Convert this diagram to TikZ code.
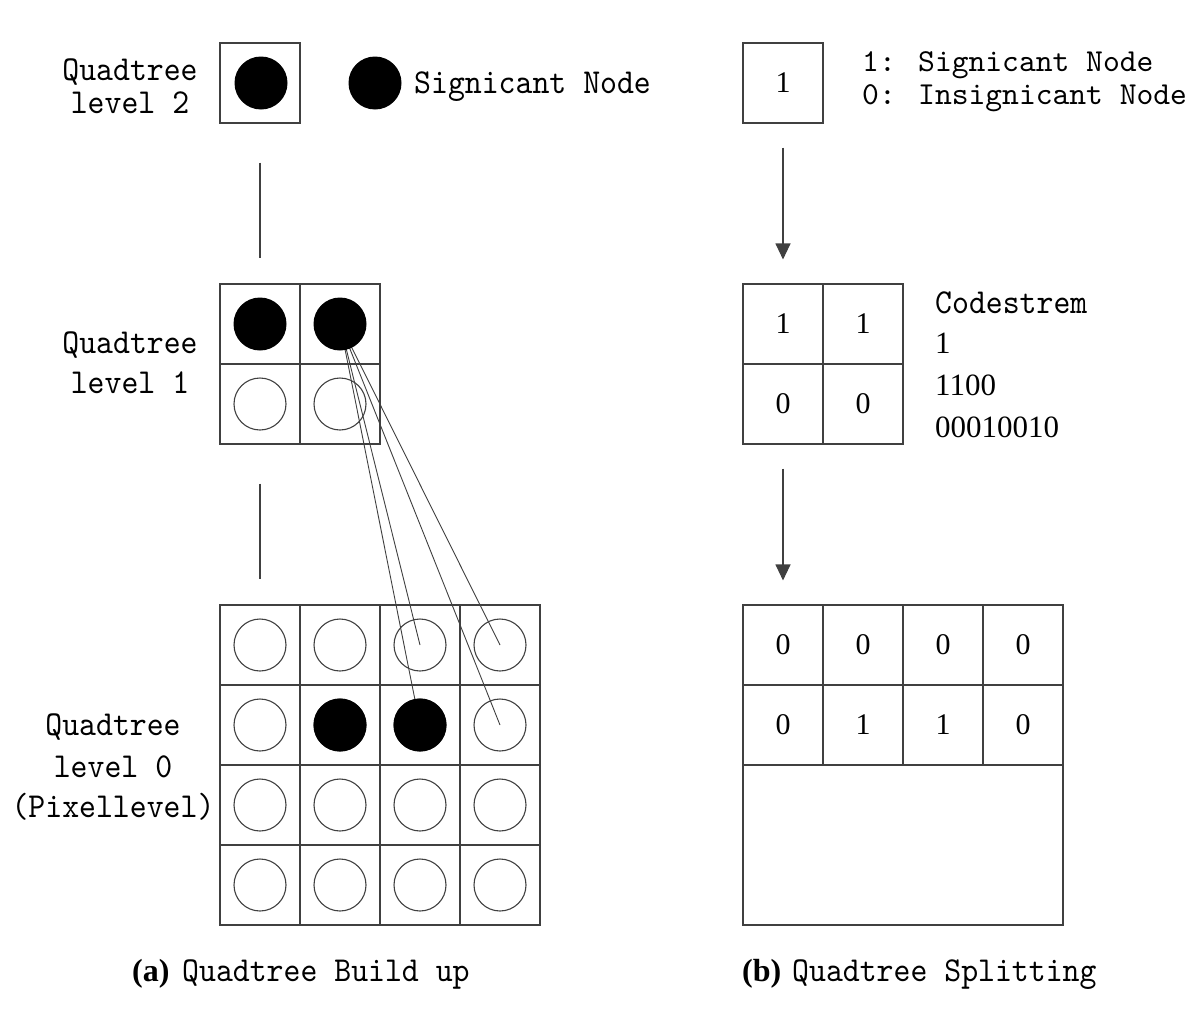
\documentclass[tikz,border=0pt]{standalone}
\usepackage{fontspec}
\usetikzlibrary{arrows.meta}
\newfontfamily\monofnt{lmmono10-regular.otf}[FakeStretch=0.92]
\newfontfamily\monolg{lmmono10-regular.otf}
\newfontfamily\serfnt{Liberation Serif}
\newcommand{\lbl}{\monofnt\fontsize{35}{40}\selectfont}
\newcommand{\lgd}{\monolg\fontsize{32}{36}\selectfont}
\newcommand{\dig}{\serfnt\fontsize{30}{34}\selectfont}
\newcommand{\digc}{\serfnt\fontsize{31}{34}\selectfont}
\newcommand{\capb}{\serfnt\bfseries\fontsize{32}{38}\selectfont}
\tikzset{
  ln/.style={draw=black!75, line width=1.1pt},
  cell/.style={ln, rectangle, minimum size=80pt, inner sep=0pt, font=\dig},
  wdot/.style={ln, circle, minimum size=52pt, inner sep=0pt},
  bdot/.style={circle, fill=black, minimum size=53pt, inner sep=0pt},
  txt/.style={font=\lbl, inner sep=0pt, anchor=base},
  txtl/.style={font=\lbl, inner sep=0pt, anchor=base west},
  lgdl/.style={font=\lgd, inner sep=0pt, anchor=base west},
  digl/.style={font=\digc, inner sep=0pt, anchor=base west},
  arr/.style={ln, -{Triangle[width=15pt,length=16pt]}, shorten <=24pt, shorten >=24pt},
  vline/.style={ln, shorten <=39pt, shorten >=25pt},
  fan/.style={ln, line width=0.9pt}
}
\begin{document}
\begin{tikzpicture}[x=1pt,y=-1pt]
\useasboundingbox (0,0) rectangle (1200,1012);
% ---------- left side (a) ----------
% level 2
\node[cell] (a2) at (260,83) {};
\node[bdot] (d2) at (261,83) {};
\node[bdot] (legd) at (375,83) {};
\node[txtl] (legt) at (414,93) {Signicant Node};
\node[txt] (l2a) at (130,80) {Quadtree};
\node[txt] (l2b) at (130,113) {level 2};
% level 1
\foreach \r/\y in {0/324,1/404}{
  \foreach \c/\x in {0/260,1/340}{
    \node[cell] (a1-\r\c) at (\x,\y) {};
  }
}
\node[txt] (l1a) at (130,353) {Quadtree};
\node[txt] (l1b) at (130,393) {level 1};
% level 0
\foreach \r/\y in {0/645,1/725,2/805,3/885}{
  \foreach \c/\x in {0/260,1/340,2/420,3/500}{
    \node[cell] (a0-\r\c) at (\x,\y) {};
  }
}
\node[txt] (l0a) at (113,735) {Quadtree};
\node[txt] (l0b) at (113,777) {level 0};
\node[txt] (l0c) at (113,817) {(Pixellevel)};
% connectors between levels
\draw[vline] (a2.south) -- (a1-00.north);
\draw[vline] (a1-10.south) -- (a0-00.north);
% fan lines from significant node to its children
\draw[fan] (a1-01.center) -- (a0-02.center);
\draw[fan] (a1-01.center) -- (a0-03.center);
\draw[fan] (a1-01.center) -- (a0-12.center);
\draw[fan] (a1-01.center) -- (a0-13.center);
% circles level 1
\node[bdot] (d1-00) at (a1-00) {};
\node[bdot] (d1-01) at (a1-01) {};
\node[wdot] (d1-10) at (a1-10) {};
\node[wdot] (d1-11) at (a1-11) {};
% circles level 0
\foreach \r in {0,1,2,3}{
  \foreach \c in {0,1,2,3}{
    \node[wdot] (d0-\r\c) at (a0-\r\c) {};
  }
}
\node[bdot] (d0-11) at (a0-11) {};
\node[bdot] (d0-12) at (a0-12) {};
% caption a
\node[anchor=base west, inner sep=0pt, font=\capb] (capa1) at (132,981) {(a)};
\node[txtl] (capa2) at (182,981) {Quadtree Build up};
% ---------- right side (b) ----------
\node[cell] (b2) at (783,83) {1};
\node[lgdl] (bl1) at (862,71) {1: Signicant Node};
\node[lgdl] (bl2) at (862,104) {0: Insignicant Node};
% level 1
\node[cell] (b1-00) at (783,324) {1};
\node[cell] (b1-01) at (863,324) {1};
\node[cell] (b1-10) at (783,404) {0};
\node[cell] (b1-11) at (863,404) {0};
\node[txtl] (cs0) at (935,313) {Codestrem};
\node[digl] (cs1) at (935,353) {1};
\node[digl] (cs2) at (935,395) {1100};
\node[digl] (cs3) at (935,437) {00010010};
% level 0
\node[cell] (b0-00) at (783,645) {0};
\node[cell] (b0-01) at (863,645) {0};
\node[cell] (b0-02) at (943,645) {0};
\node[cell] (b0-03) at (1023,645) {0};
\node[cell] (b0-10) at (783,725) {0};
\node[cell] (b0-11) at (863,725) {1};
\node[cell] (b0-12) at (943,725) {1};
\node[cell] (b0-13) at (1023,725) {0};
\node[ln, rectangle, minimum width=320pt, minimum height=160pt, inner sep=0pt] (b0-rest) at (903,845) {};
% arrows
\draw[arr] (b2.south) -- (b1-00.north);
\draw[arr] (b1-10.south) -- (b0-00.north);
% caption b
\node[anchor=base west, inner sep=0pt, font=\capb] (capb1) at (742,981) {(b)};
\node[txtl] (capb2) at (792,981) {Quadtree Splitting};
\end{tikzpicture}
\end{document}
